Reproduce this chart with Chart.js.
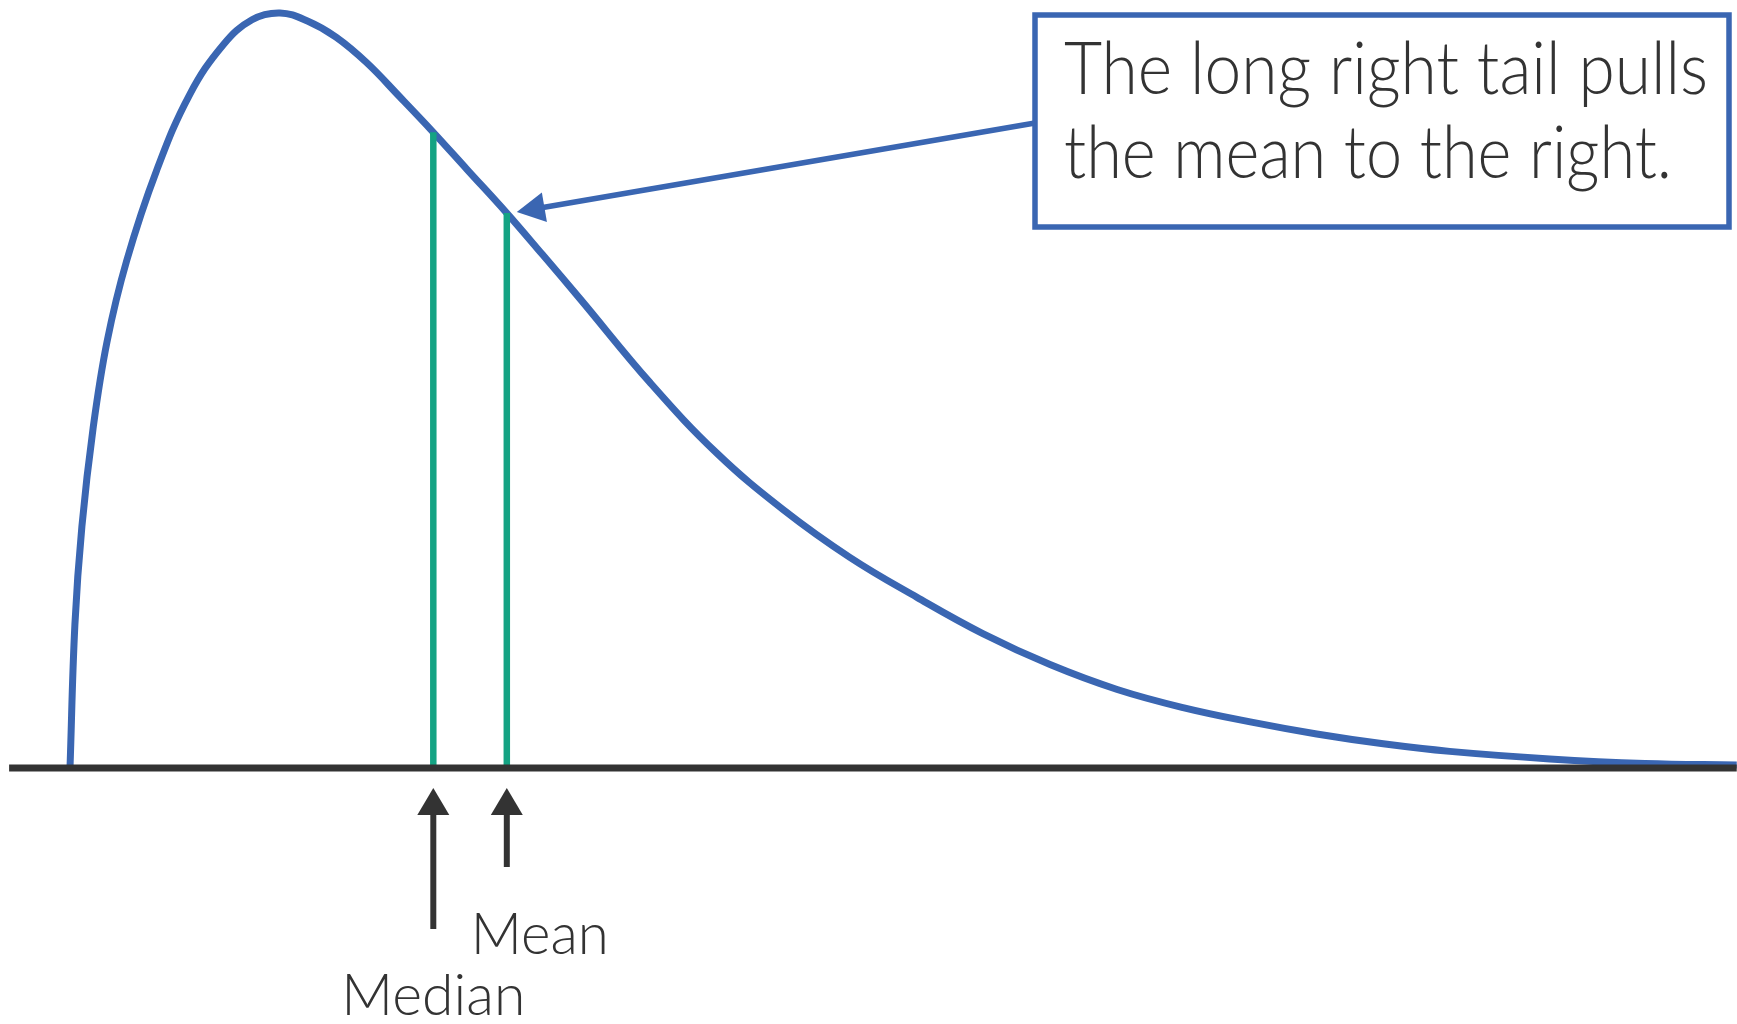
<!DOCTYPE html>
<html>
<head>
<meta charset="utf-8">
<script src="https://cdn.jsdelivr.net/npm/chart.js@4.4.0/dist/chart.umd.min.js"></script>
<style>
html, body { margin: 0; padding: 0; background: #fff; overflow: hidden; }
#wrap { width: 1737px; height: 1024px; }
</style>
</head>
<body>
<div id="wrap"><canvas id="skewChart"></canvas></div>
<script>
// right-skewed density curve (x arbitrary units, y relative height)
var curveX = [0, 0.07, 0.17, 0.33, 0.53, 0.81, 1.24, 1.71, 2.19, 2.60, 3.00, 3.40, 3.80, 4.24, 4.71,
              5.19, 5.67, 6.24, 6.75, 7.29, 8.29, 9.24, 10.19, 11.14, 12.10, 13.04, 14.00, 14.96, 15.90,
              16.86, 17.81, 18.76, 19.71, 21.14, 22.50, 23.81];
var curveY = [0, 0.190, 0.320, 0.450, 0.565, 0.672, 0.792, 0.892, 0.958, 0.991, 1.000, 0.989, 0.968, 0.934, 0.889,
              0.842, 0.793, 0.735, 0.680, 0.621, 0.510, 0.417, 0.342, 0.279, 0.226, 0.178, 0.137, 0.104, 0.080,
              0.061, 0.045, 0.032, 0.022, 0.012, 0.006, 0.004];

var markNames = ["Median", "Mean"];
var markX = [5.19, 6.24];
var markTop = [0.842, 0.735];
var axisEnds = [-0.87, 23.81];
var calloutLines = ["The long right tail pulls", "the mean to the right."];

var BLUE = '#3a66b2';
var GREEN = '#14a383';
var DARK = '#333333';
var FONT = 'Lato, "Open Sans", sans-serif';

function pts(xs, ys) {
    return xs.map(function (x, i) { return { x: x, y: ys[i] }; });
}

// draws text squeezed to a wanted width
function fitText(ctx, text, x, y, width, size) {
    ctx.save();
    ctx.font = '300 ' + size + 'px ' + FONT;
    var w = ctx.measureText(text).width;
    ctx.translate(x, y);
    ctx.scale(width / w, 1);
    ctx.textAlign = 'left';
    ctx.textBaseline = 'alphabetic';
    ctx.fillText(text, 0, 0);
    ctx.restore();
}

function arrowHead(ctx, tipX, tipY, angle, len, half) {
    ctx.save();
    ctx.translate(tipX, tipY);
    ctx.rotate(angle);
    ctx.beginPath();
    ctx.moveTo(0, 0);
    ctx.lineTo(-len, -half);
    ctx.lineTo(-len, half);
    ctx.closePath();
    ctx.fill();
    ctx.restore();
}

var annotate = {
    id: 'annotate',
    afterDatasetsDraw: function (chart) {
        var ctx = chart.ctx, xs = chart.scales.x, ys = chart.scales.y;
        var y0 = ys.getPixelForValue(0);

        // up arrows under median / mean
        var shaftEnd = [161, 99];
        ctx.fillStyle = DARK;
        ctx.strokeStyle = DARK;
        markX.forEach(function (v, i) {
            var px = xs.getPixelForValue(v);
            ctx.lineWidth = 6;
            ctx.beginPath();
            ctx.moveTo(px, y0 + 40);
            ctx.lineTo(px, y0 + shaftEnd[i]);
            ctx.stroke();
            arrowHead(ctx, px, y0 + 20, -Math.PI / 2, 27, 16);
        });

        // labels
        ctx.fillStyle = DARK;
        var medPx = xs.getPixelForValue(markX[0]);
        var meanPx = xs.getPixelForValue(markX[1]);
        fitText(ctx, markNames[0], medPx - 92, y0 + 247, 184, 57);
        fitText(ctx, markNames[1], meanPx - 36, y0 + 186, 138, 57);

        // callout box
        var bx = 1035, by = 15, bw = 694, bh = 212;
        ctx.lineWidth = 5.5;
        ctx.strokeStyle = BLUE;
        ctx.strokeRect(bx, by, bw, bh);
        ctx.fillStyle = DARK;
        fitText(ctx, calloutLines[0], 1064, 94, 644, 72);
        fitText(ctx, calloutLines[1], 1064, 178, 608, 72);

        // leader arrow to the mean
        var tipX = meanPx + 10, tipY = ys.getPixelForValue(markTop[1]) - 1;
        var sx = bx, sy = 123;
        var ang = Math.atan2(tipY - sy, tipX - sx);
        ctx.beginPath();
        ctx.moveTo(sx, sy);
        ctx.lineTo(tipX - 22 * Math.cos(ang), tipY - 22 * Math.sin(ang));
        ctx.stroke();
        ctx.fillStyle = BLUE;
        arrowHead(ctx, tipX, tipY, ang, 28, 15);
    }
};

var datasets = [
    {
        data: pts(curveX, curveY),
        borderColor: BLUE, borderWidth: 7,
        tension: 0.4, pointRadius: 0, order: 3
    }
];
markX.forEach(function (v, i) {
    datasets.push({
        data: [{ x: v, y: 0 }, { x: v, y: markTop[i] }],
        borderColor: GREEN, borderWidth: 6.5, pointRadius: 0, order: 2
    });
});
datasets.push({
    data: [{ x: axisEnds[0], y: 0 }, { x: axisEnds[1], y: 0 }],
    borderColor: DARK, borderWidth: 7, pointRadius: 0, order: 1
});

var ctx = document.getElementById('skewChart').getContext('2d');
new Chart(ctx, {
    type: 'line',
    data: { datasets: datasets },
    options: {
        responsive: true,
        maintainAspectRatio: false,
        animation: false,
        layout: { padding: 0 },
        clip: false,
        plugins: { legend: { display: false }, tooltip: { enabled: false } },
        scales: {
            x: { type: 'linear', min: -1, max: 23.814, display: false },
            y: { type: 'linear', min: -0.3391, max: 1.0172, display: false }
        }
    },
    plugins: [annotate]
});
</script>
</body>
</html>
